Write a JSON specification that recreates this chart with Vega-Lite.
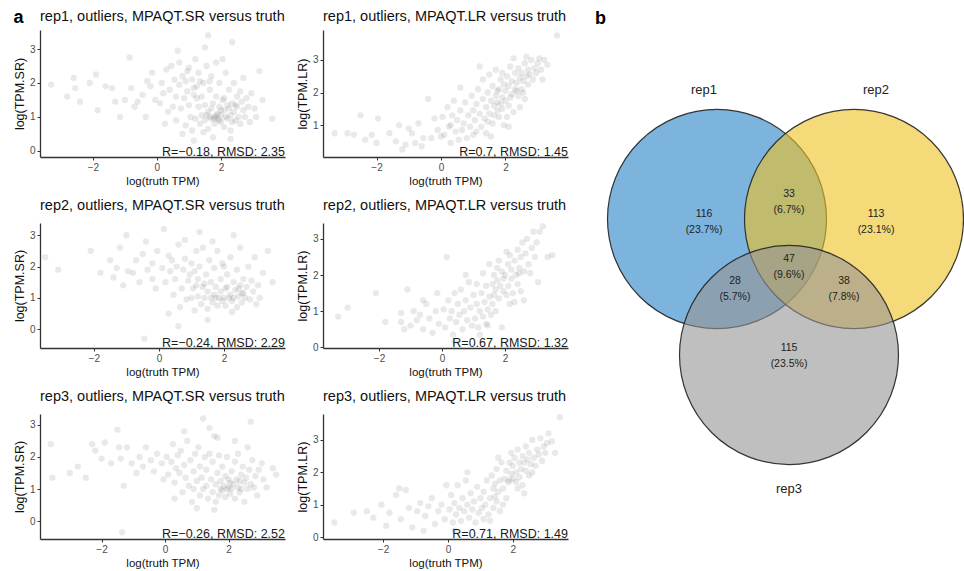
{
"$schema":"https://vega.github.io/schema/vega-lite/v6.json",
"padding":{"left":13,"top":8,"right":0,"bottom":0},
"background":"white",
"config":{
 "font":"Liberation Sans",
 "view":{"stroke":null},
 "axis":{"grid":false,"domainColor":"#333333","domainWidth":1.3,"tickColor":"#333333","tickSize":3,"labelColor":"#4d4d4d","labelFontSize":10,"labelFont":"Liberation Sans","titleFont":"Liberation Sans","titleFontSize":12,"titleFontWeight":"normal","titleColor":"#111111","labelPadding":2,"titlePadding":3},
 "axisX":{"titleFontSize":11.5},
 "axisY":{"titleFontSize":12.5},
 "title":{"font":"Liberation Sans","fontSize":14.5,"fontWeight":"normal","anchor":"start","frame":"group","offset":6,"color":"#111111"}
},
"datasets":{
"pts":[
{"panel":"1S","truth":-3.3,"est":1.95},{"panel":"1S","truth":-2.8,"est":1.6},{"panel":"1S","truth":-2.6,"est":2.15},{"panel":"1S","truth":-2.55,"est":1.85},{"panel":"1S","truth":-2.4,"est":1.45},{"panel":"1S","truth":-2.1,"est":2.0},{"panel":"1S","truth":-1.9,"est":2.25},{"panel":"1S","truth":-1.85,"est":1.2},{"panel":"1S","truth":-1.6,"est":1.9},{"panel":"1S","truth":-1.4,"est":1.85},{"panel":"1S","truth":-1.3,"est":1.45},{"panel":"1S","truth":-1.15,"est":1.0},{"panel":"1S","truth":-1.0,"est":1.5},{"panel":"1S","truth":-0.85,"est":2.75},{"panel":"1S","truth":-0.8,"est":1.85},{"panel":"1S","truth":-0.6,"est":1.45},{"panel":"1S","truth":-0.45,"est":1.65},{"panel":"1S","truth":-0.35,"est":1.0},{"panel":"1S","truth":-0.2,"est":1.9},{"panel":"1S","truth":-0.15,"est":2.3},{"panel":"1S","truth":-0.05,"est":1.5},{"panel":"1S","truth":-0.3,"est":2.05},{"panel":"1S","truth":-0.7,"est":1.3},
{"panel":"1S","truth":0.1,"est":1.4},{"panel":"1S","truth":0.15,"est":2.0},{"panel":"1S","truth":0.2,"est":1.7},{"panel":"1S","truth":0.3,"est":2.4},{"panel":"1S","truth":0.35,"est":1.15},{"panel":"1S","truth":0.4,"est":1.8},{"panel":"1S","truth":0.45,"est":2.5},{"panel":"1S","truth":0.5,"est":1.3},{"panel":"1S","truth":0.55,"est":2.1},{"panel":"1S","truth":0.6,"est":0.9},{"panel":"1S","truth":0.6,"est":1.6},{"panel":"1S","truth":0.7,"est":2.6},{"panel":"1S","truth":0.7,"est":1.95},{"panel":"1S","truth":0.75,"est":1.25},{"panel":"1S","truth":0.8,"est":2.2},{"panel":"1S","truth":0.85,"est":1.55},{"panel":"1S","truth":0.9,"est":0.75},{"panel":"1S","truth":0.9,"est":2.05},{"panel":"1S","truth":0.95,"est":1.75},{"panel":"1S","truth":1.0,"est":2.45},{"panel":"1S","truth":1.0,"est":1.35},{"panel":"1S","truth":0.25,"est":0.8},{"panel":"1S","truth":0.8,"est":0.5},{"panel":"1S","truth":0.65,"est":2.95},
{"panel":"1S","truth":1.05,"est":1.0},{"panel":"1S","truth":1.1,"est":2.1},{"panel":"1S","truth":1.1,"est":0.6},{"panel":"1S","truth":1.15,"est":1.65},{"panel":"1S","truth":1.2,"est":2.7},{"panel":"1S","truth":1.2,"est":0.95},{"panel":"1S","truth":1.25,"est":1.9},{"panel":"1S","truth":1.3,"est":1.3},{"panel":"1S","truth":1.3,"est":2.3},{"panel":"1S","truth":1.35,"est":0.8},{"panel":"1S","truth":1.4,"est":1.05},{"panel":"1S","truth":1.4,"est":1.6},{"panel":"1S","truth":1.45,"est":2.0},{"panel":"1S","truth":1.5,"est":3.05},{"panel":"1S","truth":1.5,"est":0.9},{"panel":"1S","truth":1.5,"est":1.35},{"panel":"1S","truth":1.55,"est":2.5},{"panel":"1S","truth":1.6,"est":0.65},{"panel":"1S","truth":1.6,"est":1.15},{"panel":"1S","truth":1.65,"est":1.8},{"panel":"1S","truth":1.7,"est":0.95},{"panel":"1S","truth":1.7,"est":2.2},{"panel":"1S","truth":1.75,"est":1.4},{"panel":"1S","truth":1.75,"est":0.4},{"panel":"1S","truth":1.8,"est":1.0},{"panel":"1S","truth":1.8,"est":0.8},{"panel":"1S","truth":1.85,"est":1.6},{"panel":"1S","truth":1.85,"est":2.6},{"panel":"1S","truth":1.9,"est":1.1},{"panel":"1S","truth":1.9,"est":0.95},{"panel":"1S","truth":1.95,"est":1.3},{"panel":"1S","truth":1.95,"est":2.0},{"panel":"1S","truth":1.6,"est":3.4},{"panel":"1S","truth":1.15,"est":0.3},{"panel":"1S","truth":1.45,"est":0.55},{"panel":"1S","truth":1.65,"est":1.0},
{"panel":"1S","truth":2.0,"est":0.85},{"panel":"1S","truth":2.0,"est":1.05},{"panel":"1S","truth":2.05,"est":1.5},{"panel":"1S","truth":2.1,"est":0.7},{"panel":"1S","truth":2.1,"est":1.2},{"panel":"1S","truth":2.15,"est":2.3},{"panel":"1S","truth":2.2,"est":0.95},{"panel":"1S","truth":2.2,"est":1.35},{"panel":"1S","truth":2.25,"est":1.8},{"panel":"1S","truth":2.3,"est":1.05},{"panel":"1S","truth":2.3,"est":0.6},{"panel":"1S","truth":2.35,"est":1.4},{"panel":"1S","truth":2.4,"est":1.15},{"panel":"1S","truth":2.4,"est":2.0},{"panel":"1S","truth":2.45,"est":0.9},{"panel":"1S","truth":2.5,"est":1.3},{"panel":"1S","truth":2.5,"est":1.6},{"panel":"1S","truth":2.55,"est":1.0},{"panel":"1S","truth":2.6,"est":1.75},{"panel":"1S","truth":2.6,"est":0.8},{"panel":"1S","truth":2.65,"est":1.45},{"panel":"1S","truth":2.7,"est":1.2},{"panel":"1S","truth":2.7,"est":2.15},{"panel":"1S","truth":2.75,"est":1.0},{"panel":"1S","truth":2.8,"est":1.55},{"panel":"1S","truth":2.85,"est":1.3},{"panel":"1S","truth":2.9,"est":0.85},{"panel":"1S","truth":2.95,"est":1.7},{"panel":"1S","truth":2.35,"est":3.2},{"panel":"1S","truth":2.3,"est":0.35},{"panel":"1S","truth":2.05,"est":2.7},{"panel":"1S","truth":2.25,"est":1.25},{"panel":"1S","truth":2.15,"est":1.0},{"panel":"1S","truth":1.95,"est":0.9},{"panel":"1S","truth":2.45,"est":1.35},
{"panel":"1S","truth":3.05,"est":1.25},{"panel":"1S","truth":3.1,"est":1.0},{"panel":"1S","truth":3.3,"est":1.5},{"panel":"1S","truth":3.6,"est":0.95},{"panel":"1S","truth":3.2,"est":2.35},{"panel":"1S","truth":1.8,"est":0.95},{"panel":"1S","truth":1.85,"est":1.05},{"panel":"1S","truth":2.0,"est":1.2},{"panel":"1S","truth":1.7,"est":1.25},{"panel":"1S","truth":1.55,"est":1.05},{"panel":"1S","truth":2.35,"est":0.85},{"panel":"1S","truth":2.1,"est":1.55},{"panel":"1S","truth":1.25,"est":1.55},{"panel":"1S","truth":1.35,"est":2.05},{"panel":"1S","truth":0.95,"est":2.35},{"panel":"1S","truth":1.15,"est":1.85},{"panel":"1S","truth":1.65,"est":2.05},

{"panel":"1L","truth":-3.3,"est":0.75},{"panel":"1L","truth":-2.9,"est":0.75},{"panel":"1L","truth":-2.7,"est":0.7},{"panel":"1L","truth":-2.5,"est":1.3},{"panel":"1L","truth":-2.35,"est":0.55},{"panel":"1L","truth":-2.15,"est":0.7},{"panel":"1L","truth":-2.0,"est":0.45},{"panel":"1L","truth":-1.95,"est":1.2},{"panel":"1L","truth":-1.6,"est":0.75},{"panel":"1L","truth":-1.4,"est":0.5},{"panel":"1L","truth":-1.3,"est":1.0},{"panel":"1L","truth":-1.2,"est":0.25},{"panel":"1L","truth":-1.1,"est":0.4},{"panel":"1L","truth":-0.9,"est":0.75},{"panel":"1L","truth":-0.8,"est":0.45},{"panel":"1L","truth":-0.7,"est":1.05},{"panel":"1L","truth":-0.55,"est":0.6},{"panel":"1L","truth":-0.4,"est":1.8},{"panel":"1L","truth":-0.3,"est":0.6},{"panel":"1L","truth":-0.2,"est":1.2},{"panel":"1L","truth":-0.1,"est":0.85},{"panel":"1L","truth":0.0,"est":0.65},{"panel":"1L","truth":-0.6,"est":0.35},{"panel":"1L","truth":-1.0,"est":0.9},
{"panel":"1L","truth":0.05,"est":1.25},{"panel":"1L","truth":0.1,"est":0.7},{"panel":"1L","truth":0.2,"est":1.55},{"panel":"1L","truth":0.25,"est":0.95},{"panel":"1L","truth":0.3,"est":0.45},{"panel":"1L","truth":0.35,"est":1.3},{"panel":"1L","truth":0.4,"est":1.75},{"panel":"1L","truth":0.45,"est":0.8},{"panel":"1L","truth":0.5,"est":1.15},{"panel":"1L","truth":0.55,"est":0.55},{"panel":"1L","truth":0.6,"est":1.45},{"panel":"1L","truth":0.65,"est":0.85},{"panel":"1L","truth":0.7,"est":1.05},{"panel":"1L","truth":0.75,"est":1.7},{"panel":"1L","truth":0.8,"est":0.6},{"panel":"1L","truth":0.85,"est":1.3},{"panel":"1L","truth":0.9,"est":0.95},{"panel":"1L","truth":0.95,"est":1.9},{"panel":"1L","truth":1.0,"est":0.7},{"panel":"1L","truth":1.0,"est":1.45},{"panel":"1L","truth":0.6,"est":2.15},{"panel":"1L","truth":0.3,"est":1.0},
{"panel":"1L","truth":1.05,"est":1.15},{"panel":"1L","truth":1.1,"est":1.65},{"panel":"1L","truth":1.1,"est":0.8},{"panel":"1L","truth":1.15,"est":2.1},{"panel":"1L","truth":1.2,"est":1.35},{"panel":"1L","truth":1.25,"est":0.95},{"panel":"1L","truth":1.3,"est":1.8},{"panel":"1L","truth":1.3,"est":2.4},{"panel":"1L","truth":1.35,"est":1.2},{"panel":"1L","truth":1.4,"est":1.55},{"panel":"1L","truth":1.4,"est":0.75},{"panel":"1L","truth":1.45,"est":2.0},{"panel":"1L","truth":1.5,"est":1.35},{"panel":"1L","truth":1.5,"est":2.55},{"panel":"1L","truth":1.55,"est":1.75},{"panel":"1L","truth":1.6,"est":1.05},{"panel":"1L","truth":1.6,"est":2.2},{"panel":"1L","truth":1.65,"est":1.6},{"panel":"1L","truth":1.7,"est":1.9},{"panel":"1L","truth":1.7,"est":2.7},{"panel":"1L","truth":1.75,"est":1.45},{"panel":"1L","truth":1.75,"est":1.7},{"panel":"1L","truth":1.8,"est":2.1},{"panel":"1L","truth":1.8,"est":1.25},{"panel":"1L","truth":1.85,"est":1.65},{"panel":"1L","truth":1.85,"est":2.4},{"panel":"1L","truth":1.9,"est":1.85},{"panel":"1L","truth":1.9,"est":1.5},{"panel":"1L","truth":1.95,"est":2.25},{"panel":"1L","truth":1.95,"est":1.0},{"panel":"1L","truth":1.2,"est":2.8},{"panel":"1L","truth":1.55,"est":0.65},{"panel":"1L","truth":1.65,"est":1.3},{"panel":"1L","truth":1.45,"est":1.1},{"panel":"1L","truth":1.9,"est":2.6},{"panel":"1L","truth":1.75,"est":2.05},
{"panel":"1L","truth":2.0,"est":1.75},{"panel":"1L","truth":2.0,"est":2.05},{"panel":"1L","truth":2.05,"est":2.5},{"panel":"1L","truth":2.1,"est":1.6},{"panel":"1L","truth":2.1,"est":2.2},{"panel":"1L","truth":2.15,"est":2.8},{"panel":"1L","truth":2.2,"est":1.95},{"panel":"1L","truth":2.2,"est":2.35},{"panel":"1L","truth":2.25,"est":1.4},{"panel":"1L","truth":2.3,"est":2.1},{"panel":"1L","truth":2.3,"est":2.6},{"panel":"1L","truth":2.35,"est":2.3},{"panel":"1L","truth":2.4,"est":1.9},{"panel":"1L","truth":2.4,"est":2.75},{"panel":"1L","truth":2.45,"est":2.45},{"panel":"1L","truth":2.5,"est":2.1},{"panel":"1L","truth":2.5,"est":2.6},{"panel":"1L","truth":2.55,"est":2.35},{"panel":"1L","truth":2.6,"est":2.9},{"panel":"1L","truth":2.6,"est":1.8},{"panel":"1L","truth":2.65,"est":2.5},{"panel":"1L","truth":2.7,"est":2.25},{"panel":"1L","truth":2.7,"est":2.7},{"panel":"1L","truth":2.75,"est":2.55},{"panel":"1L","truth":2.8,"est":3.0},{"panel":"1L","truth":2.85,"est":2.4},{"panel":"1L","truth":2.9,"est":2.75},{"panel":"1L","truth":2.95,"est":2.6},{"panel":"1L","truth":2.25,"est":3.05},{"panel":"1L","truth":2.45,"est":1.55},{"panel":"1L","truth":2.05,"est":1.25},{"panel":"1L","truth":2.15,"est":1.85},{"panel":"1L","truth":2.35,"est":2.05},{"panel":"1L","truth":2.55,"est":2.0},{"panel":"1L","truth":2.65,"est":3.1},{"panel":"1L","truth":2.1,"est":0.95},
{"panel":"1L","truth":3.0,"est":2.9},{"panel":"1L","truth":3.05,"est":3.05},{"panel":"1L","truth":3.1,"est":2.7},{"panel":"1L","truth":3.15,"est":2.4},{"panel":"1L","truth":3.3,"est":2.85},{"panel":"1L","truth":3.6,"est":3.75},{"panel":"1L","truth":3.2,"est":3.0},

{"panel":"2S","truth":-3.5,"est":2.3},{"panel":"2S","truth":-3.1,"est":1.9},{"panel":"2S","truth":-2.1,"est":2.5},{"panel":"2S","truth":-1.8,"est":1.8},{"panel":"2S","truth":-1.5,"est":2.2},{"panel":"2S","truth":-1.4,"est":1.65},{"panel":"2S","truth":-1.3,"est":1.95},{"panel":"2S","truth":-1.2,"est":2.6},{"panel":"2S","truth":-1.1,"est":1.4},{"panel":"2S","truth":-0.95,"est":1.85},{"panel":"2S","truth":-0.8,"est":1.8},{"panel":"2S","truth":-0.7,"est":2.2},{"panel":"2S","truth":-0.6,"est":1.5},{"panel":"2S","truth":-0.5,"est":2.4},{"panel":"2S","truth":-0.45,"est":-0.3},{"panel":"2S","truth":-0.35,"est":1.9},{"panel":"2S","truth":-0.2,"est":2.1},{"panel":"2S","truth":-0.2,"est":1.6},{"panel":"2S","truth":-0.05,"est":2.5},{"panel":"2S","truth":-1.0,"est":3.0},{"panel":"2S","truth":-0.4,"est":2.8},{"panel":"2S","truth":-0.1,"est":1.3},
{"panel":"2S","truth":0.1,"est":1.95},{"panel":"2S","truth":0.15,"est":3.2},{"panel":"2S","truth":0.2,"est":1.5},{"panel":"2S","truth":0.3,"est":2.35},{"panel":"2S","truth":0.35,"est":1.85},{"panel":"2S","truth":0.4,"est":2.2},{"panel":"2S","truth":0.45,"est":1.1},{"panel":"2S","truth":0.5,"est":1.6},{"panel":"2S","truth":0.55,"est":2.0},{"panel":"2S","truth":0.6,"est":2.7},{"panel":"2S","truth":0.65,"est":0.7},{"panel":"2S","truth":0.7,"est":1.3},{"panel":"2S","truth":0.75,"est":1.9},{"panel":"2S","truth":0.8,"est":2.25},{"panel":"2S","truth":0.85,"est":0.95},{"panel":"2S","truth":0.9,"est":1.55},{"panel":"2S","truth":0.95,"est":1.75},{"panel":"2S","truth":1.0,"est":1.0},{"panel":"2S","truth":1.0,"est":2.1},{"panel":"2S","truth":0.3,"est":0.5},{"panel":"2S","truth":0.6,"est":0.1},{"panel":"2S","truth":0.8,"est":2.85},
{"panel":"2S","truth":1.05,"est":1.3},{"panel":"2S","truth":1.1,"est":1.85},{"panel":"2S","truth":1.1,"est":0.6},{"panel":"2S","truth":1.15,"est":2.5},{"panel":"2S","truth":1.2,"est":1.05},{"panel":"2S","truth":1.2,"est":1.6},{"panel":"2S","truth":1.25,"est":2.0},{"panel":"2S","truth":1.3,"est":0.8},{"panel":"2S","truth":1.35,"est":1.35},{"panel":"2S","truth":1.35,"est":2.6},{"panel":"2S","truth":1.4,"est":1.0},{"panel":"2S","truth":1.45,"est":1.75},{"panel":"2S","truth":1.5,"est":0.65},{"panel":"2S","truth":1.5,"est":1.2},{"panel":"2S","truth":1.55,"est":2.2},{"panel":"2S","truth":1.6,"est":1.0},{"panel":"2S","truth":1.6,"est":1.5},{"panel":"2S","truth":1.65,"est":0.85},{"panel":"2S","truth":1.7,"est":1.95},{"panel":"2S","truth":1.7,"est":1.1},{"panel":"2S","truth":1.75,"est":1.35},{"panel":"2S","truth":1.8,"est":0.75},{"panel":"2S","truth":1.8,"est":2.5},{"panel":"2S","truth":1.85,"est":1.0},{"panel":"2S","truth":1.9,"est":1.6},{"panel":"2S","truth":1.9,"est":1.2},{"panel":"2S","truth":1.95,"est":0.9},{"panel":"2S","truth":1.95,"est":2.1},{"panel":"2S","truth":1.25,"est":3.1},{"panel":"2S","truth":1.5,"est":0.3},{"panel":"2S","truth":1.65,"est":2.8},{"panel":"2S","truth":1.4,"est":1.45},{"panel":"2S","truth":1.75,"est":1.0},{"panel":"2S","truth":1.15,"est":1.4},
{"panel":"2S","truth":2.0,"est":1.0},{"panel":"2S","truth":2.05,"est":1.3},{"panel":"2S","truth":2.05,"est":0.75},{"panel":"2S","truth":2.1,"est":1.75},{"panel":"2S","truth":2.15,"est":1.0},{"panel":"2S","truth":2.2,"est":1.1},{"panel":"2S","truth":2.2,"est":2.3},{"panel":"2S","truth":2.25,"est":0.9},{"panel":"2S","truth":2.3,"est":1.5},{"panel":"2S","truth":2.3,"est":1.0},{"panel":"2S","truth":2.35,"est":1.25},{"panel":"2S","truth":2.4,"est":0.7},{"panel":"2S","truth":2.4,"est":1.9},{"panel":"2S","truth":2.45,"est":1.05},{"panel":"2S","truth":2.5,"est":1.4},{"panel":"2S","truth":2.5,"est":2.6},{"panel":"2S","truth":2.55,"est":0.85},{"panel":"2S","truth":2.6,"est":1.15},{"panel":"2S","truth":2.6,"est":1.6},{"panel":"2S","truth":2.65,"est":1.0},{"panel":"2S","truth":2.7,"est":1.35},{"panel":"2S","truth":2.75,"est":2.0},{"panel":"2S","truth":2.8,"est":0.95},{"panel":"2S","truth":2.85,"est":1.55},{"panel":"2S","truth":2.9,"est":1.2},{"panel":"2S","truth":2.95,"est":2.3},{"panel":"2S","truth":2.3,"est":3.0},{"panel":"2S","truth":2.1,"est":1.35},{"panel":"2S","truth":2.45,"est":1.3},{"panel":"2S","truth":2.0,"est":2.0},{"panel":"2S","truth":2.55,"est":1.15},{"panel":"2S","truth":2.25,"est":0.55},
{"panel":"2S","truth":3.05,"est":1.4},{"panel":"2S","truth":3.1,"est":1.0},{"panel":"2S","truth":3.2,"est":1.8},{"panel":"2S","truth":3.35,"est":2.5},{"panel":"2S","truth":3.5,"est":1.5},{"panel":"2S","truth":3.0,"est":0.8},

{"panel":"2L","truth":-3.3,"est":0.85},{"panel":"2L","truth":-3.0,"est":1.1},{"panel":"2L","truth":-2.1,"est":1.5},{"panel":"2L","truth":-1.8,"est":0.7},{"panel":"2L","truth":-1.3,"est":0.95},{"panel":"2L","truth":-1.2,"est":0.5},{"panel":"2L","truth":-1.1,"est":1.6},{"panel":"2L","truth":-1.0,"est":0.6},{"panel":"2L","truth":-0.9,"est":1.0},{"panel":"2L","truth":-0.8,"est":0.75},{"panel":"2L","truth":-0.7,"est":0.9},{"panel":"2L","truth":-0.6,"est":0.5},{"panel":"2L","truth":-0.5,"est":1.2},{"panel":"2L","truth":-0.4,"est":0.8},{"panel":"2L","truth":-0.3,"est":0.4},{"panel":"2L","truth":-0.2,"est":1.0},{"panel":"2L","truth":-0.1,"est":0.65},{"panel":"2L","truth":-0.15,"est":1.5},{"panel":"2L","truth":-0.6,"est":1.3},{"panel":"2L","truth":-1.3,"est":0.7},
{"panel":"2L","truth":0.05,"est":1.05},{"panel":"2L","truth":0.1,"est":0.55},{"panel":"2L","truth":0.15,"est":2.5},{"panel":"2L","truth":0.2,"est":1.3},{"panel":"2L","truth":0.25,"est":0.8},{"panel":"2L","truth":0.3,"est":1.0},{"panel":"2L","truth":0.35,"est":0.35},{"panel":"2L","truth":0.4,"est":1.5},{"panel":"2L","truth":0.45,"est":0.7},{"panel":"2L","truth":0.5,"est":1.2},{"panel":"2L","truth":0.55,"est":0.9},{"panel":"2L","truth":0.6,"est":1.6},{"panel":"2L","truth":0.65,"est":0.5},{"panel":"2L","truth":0.7,"est":1.0},{"panel":"2L","truth":0.75,"est":1.3},{"panel":"2L","truth":0.8,"est":0.75},{"panel":"2L","truth":0.85,"est":1.8},{"panel":"2L","truth":0.9,"est":1.1},{"panel":"2L","truth":0.95,"est":0.6},{"panel":"2L","truth":1.0,"est":1.45},{"panel":"2L","truth":0.4,"est":0.15},{"panel":"2L","truth":0.75,"est":2.0},
{"panel":"2L","truth":1.05,"est":0.8},{"panel":"2L","truth":1.1,"est":1.2},{"panel":"2L","truth":1.1,"est":1.75},{"panel":"2L","truth":1.15,"est":0.55},{"panel":"2L","truth":1.2,"est":1.0},{"panel":"2L","truth":1.25,"est":1.5},{"panel":"2L","truth":1.3,"est":0.85},{"panel":"2L","truth":1.3,"est":2.05},{"panel":"2L","truth":1.35,"est":1.25},{"panel":"2L","truth":1.4,"est":0.65},{"panel":"2L","truth":1.4,"est":1.7},{"panel":"2L","truth":1.45,"est":1.05},{"panel":"2L","truth":1.5,"est":2.3},{"panel":"2L","truth":1.5,"est":1.4},{"panel":"2L","truth":1.55,"est":0.9},{"panel":"2L","truth":1.6,"est":1.75},{"panel":"2L","truth":1.6,"est":1.2},{"panel":"2L","truth":1.65,"est":2.0},{"panel":"2L","truth":1.7,"est":1.6},{"panel":"2L","truth":1.7,"est":1.0},{"panel":"2L","truth":1.75,"est":1.85},{"panel":"2L","truth":1.8,"est":2.4},{"panel":"2L","truth":1.8,"est":1.35},{"panel":"2L","truth":1.85,"est":1.7},{"panel":"2L","truth":1.9,"est":2.1},{"panel":"2L","truth":1.9,"est":0.55},{"panel":"2L","truth":1.95,"est":1.55},{"panel":"2L","truth":1.95,"est":1.9},{"panel":"2L","truth":1.2,"est":0.35},{"panel":"2L","truth":1.45,"est":0.6},{"panel":"2L","truth":1.65,"est":1.45},{"panel":"2L","truth":1.75,"est":2.2},
{"panel":"2L","truth":2.0,"est":2.0},{"panel":"2L","truth":2.05,"est":1.45},{"panel":"2L","truth":2.1,"est":2.3},{"panel":"2L","truth":2.1,"est":1.7},{"panel":"2L","truth":2.15,"est":2.55},{"panel":"2L","truth":2.2,"est":1.9},{"panel":"2L","truth":2.2,"est":2.15},{"panel":"2L","truth":2.25,"est":1.5},{"panel":"2L","truth":2.3,"est":2.4},{"panel":"2L","truth":2.35,"est":2.0},{"panel":"2L","truth":2.4,"est":2.7},{"panel":"2L","truth":2.4,"est":1.75},{"panel":"2L","truth":2.45,"est":2.2},{"panel":"2L","truth":2.5,"est":1.55},{"panel":"2L","truth":2.5,"est":2.5},{"panel":"2L","truth":2.55,"est":2.9},{"panel":"2L","truth":2.6,"est":2.1},{"panel":"2L","truth":2.6,"est":1.3},{"panel":"2L","truth":2.65,"est":2.6},{"panel":"2L","truth":2.7,"est":3.0},{"panel":"2L","truth":2.75,"est":2.3},{"panel":"2L","truth":2.8,"est":2.05},{"panel":"2L","truth":2.85,"est":2.75},{"panel":"2L","truth":2.9,"est":3.2},{"panel":"2L","truth":2.95,"est":2.5},{"panel":"2L","truth":2.3,"est":1.25},{"panel":"2L","truth":2.05,"est":2.65},{"panel":"2L","truth":2.45,"est":2.05},{"panel":"2L","truth":2.15,"est":1.2},
{"panel":"2L","truth":3.0,"est":2.9},{"panel":"2L","truth":3.1,"est":3.2},{"panel":"2L","truth":3.2,"est":3.35},{"panel":"2L","truth":3.35,"est":2.5},{"panel":"2L","truth":3.5,"est":2.55},{"panel":"2L","truth":3.05,"est":1.8},

{"panel":"3S","truth":-3.6,"est":2.4},{"panel":"3S","truth":-3.55,"est":1.35},{"panel":"3S","truth":-3.0,"est":1.5},{"panel":"3S","truth":-2.75,"est":1.7},{"panel":"3S","truth":-2.5,"est":1.35},{"panel":"3S","truth":-2.3,"est":2.4},{"panel":"3S","truth":-2.2,"est":2.2},{"panel":"3S","truth":-2.0,"est":1.95},{"panel":"3S","truth":-1.9,"est":2.45},{"panel":"3S","truth":-1.7,"est":1.8},{"panel":"3S","truth":-1.5,"est":2.85},{"panel":"3S","truth":-1.45,"est":2.3},{"panel":"3S","truth":-1.4,"est":1.95},{"panel":"3S","truth":-1.3,"est":1.1},{"panel":"3S","truth":-1.2,"est":2.3},{"panel":"3S","truth":-1.05,"est":1.8},{"panel":"3S","truth":-0.9,"est":1.5},{"panel":"3S","truth":-0.8,"est":2.0},{"panel":"3S","truth":-0.7,"est":1.7},{"panel":"3S","truth":-0.6,"est":2.3},{"panel":"3S","truth":-0.45,"est":1.9},{"panel":"3S","truth":-0.35,"est":1.55},{"panel":"3S","truth":-0.25,"est":2.1},{"panel":"3S","truth":-0.1,"est":1.8},{"panel":"3S","truth":-0.05,"est":1.3},{"panel":"3S","truth":-1.35,"est":-0.35},
{"panel":"3S","truth":0.05,"est":2.0},{"panel":"3S","truth":0.1,"est":1.45},{"panel":"3S","truth":0.2,"est":1.85},{"panel":"3S","truth":0.25,"est":2.4},{"panel":"3S","truth":0.3,"est":1.2},{"panel":"3S","truth":0.35,"est":1.65},{"panel":"3S","truth":0.4,"est":2.05},{"panel":"3S","truth":0.45,"est":1.5},{"panel":"3S","truth":0.5,"est":2.2},{"panel":"3S","truth":0.55,"est":0.9},{"panel":"3S","truth":0.6,"est":1.75},{"panel":"3S","truth":0.65,"est":1.35},{"panel":"3S","truth":0.7,"est":2.5},{"panel":"3S","truth":0.75,"est":1.1},{"panel":"3S","truth":0.8,"est":1.9},{"panel":"3S","truth":0.85,"est":0.6},{"panel":"3S","truth":0.9,"est":1.55},{"panel":"3S","truth":0.95,"est":2.1},{"panel":"3S","truth":1.0,"est":1.25},{"panel":"3S","truth":1.0,"est":0.4},{"panel":"3S","truth":0.3,"est":0.7},{"panel":"3S","truth":0.6,"est":2.8},{"panel":"3S","truth":0.9,"est":1.0},
{"panel":"3S","truth":1.05,"est":2.3},{"panel":"3S","truth":1.1,"est":1.7},{"panel":"3S","truth":1.1,"est":0.8},{"panel":"3S","truth":1.15,"est":1.35},{"panel":"3S","truth":1.2,"est":3.2},{"panel":"3S","truth":1.25,"est":2.0},{"panel":"3S","truth":1.3,"est":1.1},{"panel":"3S","truth":1.3,"est":1.6},{"panel":"3S","truth":1.35,"est":0.7},{"panel":"3S","truth":1.4,"est":2.1},{"panel":"3S","truth":1.45,"est":1.3},{"panel":"3S","truth":1.5,"est":0.9},{"panel":"3S","truth":1.5,"est":1.85},{"panel":"3S","truth":1.55,"est":2.65},{"panel":"3S","truth":1.6,"est":1.15},{"panel":"3S","truth":1.6,"est":0.6},{"panel":"3S","truth":1.65,"est":1.5},{"panel":"3S","truth":1.7,"est":2.05},{"panel":"3S","truth":1.7,"est":0.8},{"panel":"3S","truth":1.75,"est":1.25},{"panel":"3S","truth":1.8,"est":0.95},{"panel":"3S","truth":1.8,"est":1.7},{"panel":"3S","truth":1.85,"est":1.1},{"panel":"3S","truth":1.9,"est":0.75},{"panel":"3S","truth":1.9,"est":1.4},{"panel":"3S","truth":1.95,"est":1.0},{"panel":"3S","truth":1.95,"est":2.0},{"panel":"3S","truth":1.4,"est":2.9},{"panel":"3S","truth":1.55,"est":0.35},{"panel":"3S","truth":1.65,"est":2.6},{"panel":"3S","truth":1.2,"est":1.0},{"panel":"3S","truth":1.75,"est":1.0},
{"panel":"3S","truth":2.0,"est":1.05},{"panel":"3S","truth":2.0,"est":1.3},{"panel":"3S","truth":2.05,"est":0.85},{"panel":"3S","truth":2.1,"est":1.55},{"panel":"3S","truth":2.1,"est":1.0},{"panel":"3S","truth":2.15,"est":1.15},{"panel":"3S","truth":2.2,"est":0.7},{"panel":"3S","truth":2.2,"est":1.85},{"panel":"3S","truth":2.25,"est":1.3},{"panel":"3S","truth":2.3,"est":1.05},{"panel":"3S","truth":2.3,"est":2.1},{"panel":"3S","truth":2.35,"est":0.9},{"panel":"3S","truth":2.4,"est":1.45},{"panel":"3S","truth":2.4,"est":1.0},{"panel":"3S","truth":2.45,"est":1.7},{"panel":"3S","truth":2.5,"est":1.2},{"panel":"3S","truth":2.5,"est":0.6},{"panel":"3S","truth":2.55,"est":1.35},{"panel":"3S","truth":2.6,"est":1.0},{"panel":"3S","truth":2.6,"est":2.3},{"panel":"3S","truth":2.65,"est":1.6},{"panel":"3S","truth":2.7,"est":1.15},{"panel":"3S","truth":2.75,"est":1.9},{"panel":"3S","truth":2.8,"est":1.05},{"panel":"3S","truth":2.85,"est":1.4},{"panel":"3S","truth":2.9,"est":0.8},{"panel":"3S","truth":2.95,"est":1.6},{"panel":"3S","truth":2.7,"est":3.1},{"panel":"3S","truth":2.2,"est":2.5},{"panel":"3S","truth":2.05,"est":1.2},{"panel":"3S","truth":2.35,"est":1.25},
{"panel":"3S","truth":3.05,"est":1.8},{"panel":"3S","truth":3.1,"est":1.3},{"panel":"3S","truth":3.2,"est":1.05},{"panel":"3S","truth":3.4,"est":1.65},{"panel":"3S","truth":3.5,"est":1.45},

{"panel":"3L","truth":-3.5,"est":0.45},{"panel":"3L","truth":-2.9,"est":0.75},{"panel":"3L","truth":-2.5,"est":0.8},{"panel":"3L","truth":-2.3,"est":0.6},{"panel":"3L","truth":-2.05,"est":1.0},{"panel":"3L","truth":-1.8,"est":0.75},{"panel":"3L","truth":-1.6,"est":1.3},{"panel":"3L","truth":-1.5,"est":1.5},{"panel":"3L","truth":-1.45,"est":0.55},{"panel":"3L","truth":-1.3,"est":1.45},{"panel":"3L","truth":-1.2,"est":0.9},{"panel":"3L","truth":-1.1,"est":0.3},{"panel":"3L","truth":-0.95,"est":0.8},{"panel":"3L","truth":-0.85,"est":1.05},{"panel":"3L","truth":-0.7,"est":0.65},{"panel":"3L","truth":-0.6,"est":0.95},{"panel":"3L","truth":-0.5,"est":1.2},{"panel":"3L","truth":-0.4,"est":0.4},{"panel":"3L","truth":-0.3,"est":0.8},{"panel":"3L","truth":-0.2,"est":1.0},{"panel":"3L","truth":-0.1,"est":0.55},{"panel":"3L","truth":-0.05,"est":1.6},{"panel":"3L","truth":-1.9,"est":0.35},{"panel":"3L","truth":-0.75,"est":0.2},
{"panel":"3L","truth":0.05,"est":0.85},{"panel":"3L","truth":0.1,"est":1.3},{"panel":"3L","truth":0.15,"est":0.45},{"panel":"3L","truth":0.2,"est":1.05},{"panel":"3L","truth":0.25,"est":0.7},{"panel":"3L","truth":0.3,"est":1.6},{"panel":"3L","truth":0.35,"est":0.9},{"panel":"3L","truth":0.4,"est":0.5},{"panel":"3L","truth":0.45,"est":1.2},{"panel":"3L","truth":0.5,"est":0.8},{"panel":"3L","truth":0.55,"est":1.75},{"panel":"3L","truth":0.6,"est":1.0},{"panel":"3L","truth":0.65,"est":0.6},{"panel":"3L","truth":0.7,"est":1.35},{"panel":"3L","truth":0.75,"est":0.85},{"panel":"3L","truth":0.8,"est":1.1},{"panel":"3L","truth":0.85,"est":0.45},{"panel":"3L","truth":0.9,"est":1.55},{"panel":"3L","truth":0.95,"est":0.75},{"panel":"3L","truth":1.0,"est":1.2},{"panel":"3L","truth":0.2,"est":0.2},{"panel":"3L","truth":0.6,"est":2.0},
{"panel":"3L","truth":1.05,"est":0.9},{"panel":"3L","truth":1.1,"est":1.4},{"panel":"3L","truth":1.1,"est":0.55},{"panel":"3L","truth":1.15,"est":1.0},{"panel":"3L","truth":1.2,"est":1.75},{"panel":"3L","truth":1.25,"est":0.7},{"panel":"3L","truth":1.3,"est":1.2},{"panel":"3L","truth":1.35,"est":1.9},{"panel":"3L","truth":1.4,"est":0.9},{"panel":"3L","truth":1.4,"est":1.5},{"panel":"3L","truth":1.45,"est":1.65},{"panel":"3L","truth":1.5,"est":2.1},{"panel":"3L","truth":1.5,"est":1.1},{"panel":"3L","truth":1.55,"est":1.4},{"panel":"3L","truth":1.6,"est":1.75},{"panel":"3L","truth":1.6,"est":0.8},{"panel":"3L","truth":1.65,"est":2.3},{"panel":"3L","truth":1.7,"est":1.5},{"panel":"3L","truth":1.75,"est":1.8},{"panel":"3L","truth":1.8,"est":2.05},{"panel":"3L","truth":1.8,"est":1.2},{"panel":"3L","truth":1.85,"est":1.7},{"panel":"3L","truth":1.9,"est":2.3},{"panel":"3L","truth":1.9,"est":1.75},{"panel":"3L","truth":1.95,"est":1.95},{"panel":"3L","truth":1.95,"est":2.6},{"panel":"3L","truth":1.3,"est":0.5},{"panel":"3L","truth":1.55,"est":2.45},{"panel":"3L","truth":1.7,"est":1.0},{"panel":"3L","truth":1.45,"est":1.25},
{"panel":"3L","truth":2.0,"est":1.8},{"panel":"3L","truth":2.0,"est":2.2},{"panel":"3L","truth":2.05,"est":2.45},{"panel":"3L","truth":2.1,"est":1.7},{"panel":"3L","truth":2.1,"est":2.0},{"panel":"3L","truth":2.15,"est":2.7},{"panel":"3L","truth":2.2,"est":1.85},{"panel":"3L","truth":2.2,"est":2.3},{"panel":"3L","truth":2.25,"est":2.1},{"panel":"3L","truth":2.3,"est":2.5},{"panel":"3L","truth":2.3,"est":1.6},{"panel":"3L","truth":2.35,"est":2.3},{"panel":"3L","truth":2.4,"est":2.05},{"panel":"3L","truth":2.4,"est":2.8},{"panel":"3L","truth":2.45,"est":2.4},{"panel":"3L","truth":2.5,"est":1.9},{"panel":"3L","truth":2.5,"est":2.6},{"panel":"3L","truth":2.55,"est":2.25},{"panel":"3L","truth":2.6,"est":3.0},{"panel":"3L","truth":2.65,"est":2.45},{"panel":"3L","truth":2.7,"est":2.2},{"panel":"3L","truth":2.75,"est":2.7},{"panel":"3L","truth":2.8,"est":2.55},{"panel":"3L","truth":2.85,"est":3.05},{"panel":"3L","truth":2.9,"est":2.35},{"panel":"3L","truth":2.95,"est":2.8},{"panel":"3L","truth":2.35,"est":1.35},{"panel":"3L","truth":2.15,"est":1.5},{"panel":"3L","truth":2.6,"est":2.0},
{"panel":"3L","truth":3.0,"est":2.6},{"panel":"3L","truth":3.05,"est":2.9},{"panel":"3L","truth":3.1,"est":3.2},{"panel":"3L","truth":3.2,"est":2.95},{"panel":"3L","truth":3.3,"est":2.6},{"panel":"3L","truth":3.45,"est":3.7}
],
"stats":[
{"panel":"1S","label":"R=−0.18, RMSD: 2.35"},{"panel":"1L","label":"R=0.7, RMSD: 1.45"},
{"panel":"2S","label":"R=−0.24, RMSD: 2.29"},{"panel":"2L","label":"R=0.67, RMSD: 1.32"},
{"panel":"3S","label":"R=−0.26, RMSD: 2.52"},{"panel":"3L","label":"R=0.71, RMSD: 1.49"}
],
"sets":[
{"set":"rep1","cx":-0.69,"cy":0.45,"lx":-0.82,"ly":1.74},
{"set":"rep2","cx":0.68,"cy":0.45,"lx":0.90,"ly":1.74},
{"set":"rep3","cx":0.03,"cy":-0.91,"lx":0.03,"ly":-2.25}
],
"regions":[
{"n":"116","pct":"(23.7%)","u":-0.82,"v":0.42},
{"n":"33","pct":"(6.7%)","u":0.03,"v":0.62},
{"n":"113","pct":"(23.1%)","u":0.90,"v":0.42},
{"n":"47","pct":"(9.6%)","u":0.03,"v":-0.03},
{"n":"28","pct":"(5.7%)","u":-0.51,"v":-0.25},
{"n":"38","pct":"(7.8%)","u":0.58,"v":-0.25},
{"n":"115","pct":"(23.5%)","u":0.03,"v":-0.92}
]
},
"hconcat":[
{
 "title":{"text":"a","fontWeight":"bold","fontSize":18,"anchor":"start","frame":"bounds","offset":-18,"color":"#000000"},
 "spacing":10,
 "vconcat":[
  {"spacing":11,"hconcat":[
   {"width":245,"height":127,"title":{"text":"rep1, outliers, MPAQT.SR versus truth","offset":6},"layer":[
    {"data":{"name":"pts"},"transform":[{"filter":"datum.panel==='1S'"}],"mark":{"type":"circle","size":40,"color":"#555555","opacity":0.13},
     "encoding":{"x":{"field":"truth","type":"quantitative","scale":{"domain":[-3.65,4.0],"nice":false,"zero":false},"axis":{"title":"log(truth TPM)","values":[-2,0,2]}},
                 "y":{"field":"est","type":"quantitative","scale":{"domain":[-0.18,3.56],"nice":false,"zero":false},"axis":{"title":"log(TPM.SR)","values":[0,1,2,3]}}}},
    {"data":{"name":"stats"},"transform":[{"filter":"datum.panel==='1S'"}],"mark":{"type":"text","align":"right","baseline":"alphabetic","fontSize":12.5,"color":"#1a1a1a","dy":-1},
     "encoding":{"x":{"datum":4.0},"y":{"datum":-0.18},"text":{"field":"label"}}}
   ]},
   {"width":245,"height":127,"title":{"text":"rep1, outliers, MPAQT.LR versus truth","offset":6},"layer":[
    {"data":{"name":"pts"},"transform":[{"filter":"datum.panel==='1L'"}],"mark":{"type":"circle","size":40,"color":"#555555","opacity":0.13},
     "encoding":{"x":{"field":"truth","type":"quantitative","scale":{"domain":[-3.66,3.94],"nice":false,"zero":false},"axis":{"title":"log(truth TPM)","values":[-2,0,2]}},
                 "y":{"field":"est","type":"quantitative","scale":{"domain":[0.02,3.92],"nice":false,"zero":false},"axis":{"title":"log(TPM.LR)","values":[1,2,3]}}}},
    {"data":{"name":"stats"},"transform":[{"filter":"datum.panel==='1L'"}],"mark":{"type":"text","align":"right","baseline":"alphabetic","fontSize":12.5,"color":"#1a1a1a","dy":-1},
     "encoding":{"x":{"datum":3.94},"y":{"datum":0.02},"text":{"field":"label"}}}
   ]}
  ]},
  {"spacing":11,"hconcat":[
   {"width":245,"height":125,"title":{"text":"rep2, outliers, MPAQT.SR versus truth","offset":10},"layer":[
    {"data":{"name":"pts"},"transform":[{"filter":"datum.panel==='2S'"}],"mark":{"type":"circle","size":40,"color":"#555555","opacity":0.13},
     "encoding":{"x":{"field":"truth","type":"quantitative","scale":{"domain":[-3.66,3.88],"nice":false,"zero":false},"axis":{"title":"log(truth TPM)","values":[-2,0,2]}},
                 "y":{"field":"est","type":"quantitative","scale":{"domain":[-0.6,3.39],"nice":false,"zero":false},"axis":{"title":"log(TPM.SR)","values":[0,1,2,3]}}}},
    {"data":{"name":"stats"},"transform":[{"filter":"datum.panel==='2S'"}],"mark":{"type":"text","align":"right","baseline":"alphabetic","fontSize":12.5,"color":"#1a1a1a","dy":-1},
     "encoding":{"x":{"datum":3.88},"y":{"datum":-0.6},"text":{"field":"label"}}}
   ]},
   {"width":245,"height":125,"title":{"text":"rep2, outliers, MPAQT.LR versus truth","offset":10},"layer":[
    {"data":{"name":"pts"},"transform":[{"filter":"datum.panel==='2L'"}],"mark":{"type":"circle","size":40,"color":"#555555","opacity":0.13},
     "encoding":{"x":{"field":"truth","type":"quantitative","scale":{"domain":[-3.78,4.0],"nice":false,"zero":false},"axis":{"title":"log(truth TPM)","values":[-2,0,2]}},
                 "y":{"field":"est","type":"quantitative","scale":{"domain":[-0.02,3.44],"nice":false,"zero":false},"axis":{"title":"log(TPM.LR)","values":[0,1,2,3]}}}},
    {"data":{"name":"stats"},"transform":[{"filter":"datum.panel==='2L'"}],"mark":{"type":"text","align":"right","baseline":"alphabetic","fontSize":12.5,"color":"#1a1a1a","dy":-1},
     "encoding":{"x":{"datum":4.0},"y":{"datum":-0.02},"text":{"field":"label"}}}
   ]}
  ]},
  {"spacing":11,"hconcat":[
   {"width":245,"height":125,"title":{"text":"rep3, outliers, MPAQT.SR versus truth","offset":10},"layer":[
    {"data":{"name":"pts"},"transform":[{"filter":"datum.panel==='3S'"}],"mark":{"type":"circle","size":40,"color":"#555555","opacity":0.13},
     "encoding":{"x":{"field":"truth","type":"quantitative","scale":{"domain":[-3.94,3.78],"nice":false,"zero":false},"axis":{"title":"log(truth TPM)","values":[-2,0,2]}},
                 "y":{"field":"est","type":"quantitative","scale":{"domain":[-0.56,3.34],"nice":false,"zero":false},"axis":{"title":"log(TPM.SR)","values":[0,1,2,3]}}}},
    {"data":{"name":"stats"},"transform":[{"filter":"datum.panel==='3S'"}],"mark":{"type":"text","align":"right","baseline":"alphabetic","fontSize":12.5,"color":"#1a1a1a","dy":-1},
     "encoding":{"x":{"datum":3.78},"y":{"datum":-0.56},"text":{"field":"label"}}}
   ]},
   {"width":245,"height":125,"title":{"text":"rep3, outliers, MPAQT.LR versus truth","offset":10},"layer":[
    {"data":{"name":"pts"},"transform":[{"filter":"datum.panel==='3L'"}],"mark":{"type":"circle","size":40,"color":"#555555","opacity":0.13},
     "encoding":{"x":{"field":"truth","type":"quantitative","scale":{"domain":[-3.85,3.7],"nice":false,"zero":false},"axis":{"title":"log(truth TPM)","values":[-2,0,2]}},
                 "y":{"field":"est","type":"quantitative","scale":{"domain":[-0.06,3.8],"nice":false,"zero":false},"axis":{"title":"log(TPM.LR)","values":[0,1,2,3]}}}},
    {"data":{"name":"stats"},"transform":[{"filter":"datum.panel==='3L'"}],"mark":{"type":"text","align":"right","baseline":"alphabetic","fontSize":12.5,"color":"#1a1a1a","dy":-1},
     "encoding":{"x":{"datum":3.7},"y":{"datum":-0.06},"text":{"field":"label"}}}
   ]}
  ]}
 ]
},
{
 "width":368,"height":520,
 "title":{"text":"b","fontWeight":"bold","fontSize":18,"anchor":"start","frame":"group","offset":2,"color":"#000000"},
 "layer":[
  {"data":{"name":"sets"},"mark":{"type":"point","shape":"circle","filled":true,"size":47961,"fillOpacity":0.6,"stroke":"#222222","strokeWidth":1.2,"strokeOpacity":0.9},
   "encoding":{"x":{"field":"cx","type":"quantitative","scale":{"domain":[-1.91,1.77],"nice":false,"zero":false},"axis":null},
               "y":{"field":"cy","type":"quantitative","scale":{"domain":[-2.86,2.34],"nice":false,"zero":false},"axis":null},
               "fill":{"field":"set","type":"nominal","scale":{"domain":["rep1","rep2","rep3"],"range":["#2682C8","#EEC121","#949494"]},"legend":null},
               "order":{"field":"set","type":"nominal"}}},
  {"data":{"name":"sets"},"mark":{"type":"text","fontSize":13,"color":"#222222"},
   "encoding":{"x":{"field":"lx","type":"quantitative"},"y":{"field":"ly","type":"quantitative"},"text":{"field":"set"}}},
  {"data":{"name":"regions"},"mark":{"type":"text","fontSize":10.5,"color":"#222222","dy":-8},
   "encoding":{"x":{"field":"u","type":"quantitative"},"y":{"field":"v","type":"quantitative"},"text":{"field":"n"}}},
  {"data":{"name":"regions"},"mark":{"type":"text","fontSize":10.5,"color":"#222222","dy":8},
   "encoding":{"x":{"field":"u","type":"quantitative"},"y":{"field":"v","type":"quantitative"},"text":{"field":"pct"}}}
 ]
}
],
"spacing":27
}
